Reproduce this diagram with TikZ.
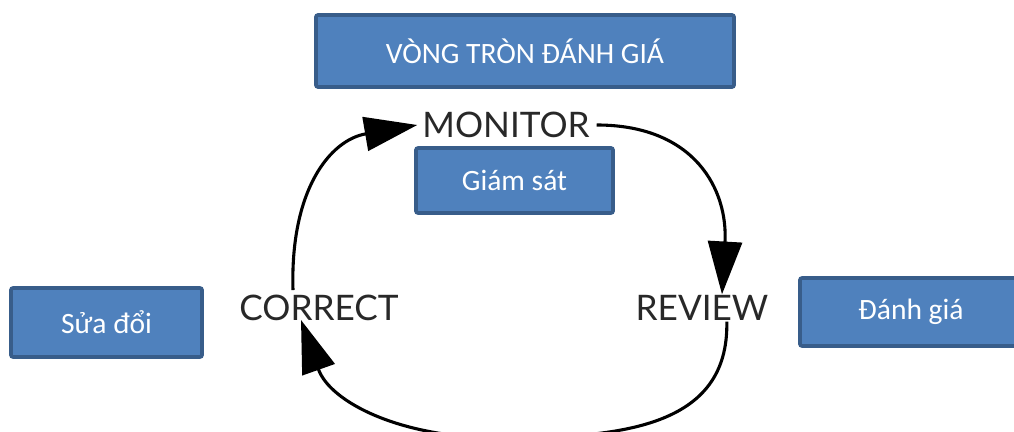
\documentclass[tikz,border=0pt]{standalone}
\usepackage{fontspec}
\setmainfont{Carlito}
\newfontfamily\lblfont{Lato}
\usetikzlibrary{arrows.meta}
\definecolor{boxfill}{RGB}{79,129,189}
\definecolor{boxedge}{RGB}{56,93,138}
\definecolor{lbl}{RGB}{40,40,40}
\tikzset{
  bluebox/.style={draw=boxedge, fill=boxfill, line width=2.6pt, rounded corners=1.5pt,
    text=white, font=\fontsize{21}{25}\selectfont, inner sep=0pt},
  steplabel/.style={text=lbl, font=\lblfont\fontsize{25}{29}\selectfont, inner sep=2pt},
  cyclearrow/.style={draw=black, line width=2.2pt,
    -{Triangle[length=1.32cm, width=0.85cm]}}
}
\begin{document}
\begin{tikzpicture}[x=0.025cm, y=-0.025cm]
\useasboundingbox (0,0) rectangle (1014,432);
\node[bluebox, minimum width=10.45cm, minimum height=1.8cm] (title) at (525,51) {VÒNG TRÒN ĐÁNH GIÁ};
\node[bluebox, minimum width=4.925cm, minimum height=1.625cm] (gs) at (514.5,180.5) {Giám sát};
\node[bluebox, minimum width=4.775cm, minimum height=1.725cm] (sd) at (106.5,322.5) {Sửa đổi};
\node[bluebox, minimum width=5.55cm, minimum height=1.7cm] (dg) at (911,312) {Đánh giá};

\node[steplabel] (mon) at (506,125) {MONITOR};
\node[steplabel] (cor) at (319,308) {CORRECT};
\node[steplabel] (rev) at (702,308) {REVIEW};

\draw[cyclearrow] ([xshift=-0.65cm, yshift=0.05cm]cor.north) .. controls (290,190) and (330,140) .. ([xshift=-0.05cm]mon.west);
\draw[cyclearrow] ([xshift=0.1cm]mon.east) .. controls (695,125) and (728,190) .. ([xshift=0.5cm, yshift=-0.05cm]rev.north);
\draw[cyclearrow] ([xshift=0.62cm, yshift=0.05cm]rev.south) .. controls (729,428) and (620,438) .. (500,438)
  .. controls (400,438) and (330,402) .. ([xshift=-0.45cm, yshift=0.1cm]cor.south);
\end{tikzpicture}
\end{document}
